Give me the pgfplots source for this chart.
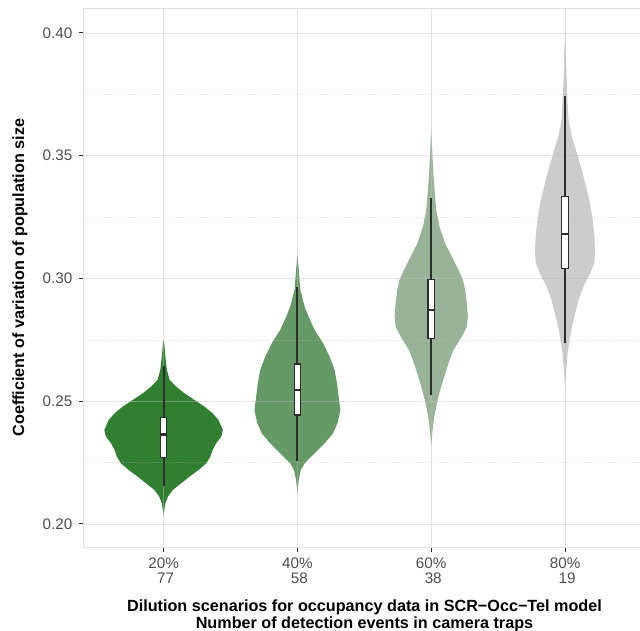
\documentclass[border=0pt]{standalone}
\usepackage{pgfplots}
\pgfplotsset{compat=1.18}
\usepackage{fontspec}
\setmainfont{Liberation Sans}
\definecolor{vA}{RGB}{49,128,49}
\definecolor{vB}{RGB}{101,153,101}
\definecolor{vC}{RGB}{152,179,152}
\definecolor{vD}{RGB}{204,204,204}
\definecolor{gridc}{RGB}{190,190,190}
\definecolor{tickc}{RGB}{77,77,77}
\definecolor{boxc}{RGB}{45,45,45}
\pgfplotsset{
  whisk/.style={draw=boxc, line width=2.1bp},
  bx/.style={draw=boxc, fill=white, line width=1.2bp},
  med/.style={draw=boxc, line width=2.4bp},
}
\begin{document}
\begin{tikzpicture}
\begin{axis}[
  set layers,
  scale only axis, width=556.7bp, height=538.7bp,
  xmin=0.4, xmax=4.56, ymin=0.19063, ymax=0.41006,
  xtick={1,2,3,4},
  xticklabels={{20\%\\\hspace*{4bp}77},{40\%\\\hspace*{4bp}58},{60\%\\\hspace*{4bp}38},{80\%\\\hspace*{4bp}19}},
  ytick={0.2,0.25,0.3,0.35,0.4},
  minor ytick={0.225,0.275,0.325,0.375},
  xtick pos=bottom, ytick pos=left,
  tick align=outside, major tick length=4.5bp, minor tick length=0pt,
  major tick style={boxc, line width=1bp},
  grid=both,
  major grid style={draw=gridc, draw opacity=0.45, line width=0.9bp},
  minor grid style={draw=gridc, draw opacity=0.3, line width=0.5bp, dash pattern=on 2bp off 1bp},
  axis line style={black!13, line width=1bp},
  /pgf/number format/assume math mode=true,
  yticklabel style={xshift=-3bp, /pgf/number format/fixed, /pgf/number format/fixed zerofill, /pgf/number format/precision=2},
  tick label style={text=tickc, font=\fontsize{15.3}{15.5}\selectfont},
  xticklabel style={align=center, inner sep=0pt},
  xticklabel shift=6bp,
  ylabel={Coefficient of variation of population size},
  ylabel style={at={(axis description cs:-0.1137,0.5)}, anchor=center, inner sep=0pt, font=\bfseries\fontsize{16.25}{19}\selectfont},
  xlabel={Dilution scenarios for occupancy data in SCR−Occ−Tel model\\Number of detection events in camera traps},
  xlabel style={align=center, at={(axis description cs:0.5051,-0.0975)}, anchor=north, inner sep=0pt, font=\bfseries\fontsize{16.25}{17.3}\selectfont},
]
% violin 20%
\addplot[on layer=axis background, fill=vA, draw=none] table[x expr=1+\thisrow{w}, y=v] {
v w
0.2750 0
0.2736 0.005
0.2682 0.013
0.2627 0.025
0.2587 0.045
0.2559 0.095
0.2532 0.157
0.2505 0.231
0.2478 0.306
0.2451 0.366
0.2424 0.410
0.2383 0.443
0.2356 0.431
0.2329 0.393
0.2301 0.366
0.2274 0.349
0.2247 0.319
0.2220 0.261
0.2193 0.194
0.2166 0.132
0.2139 0.069
0.2111 0.032
0.2084 0.013
0.2044 0.002
0.2033 0
0.2044 -0.002
0.2084 -0.013
0.2111 -0.032
0.2139 -0.069
0.2166 -0.132
0.2193 -0.194
0.2220 -0.261
0.2247 -0.319
0.2274 -0.349
0.2301 -0.366
0.2329 -0.393
0.2356 -0.431
0.2383 -0.443
0.2424 -0.410
0.2451 -0.366
0.2478 -0.306
0.2505 -0.231
0.2532 -0.157
0.2559 -0.095
0.2587 -0.045
0.2627 -0.025
0.2682 -0.013
0.2736 -0.005
};
% violin 40%
\addplot[on layer=axis background, fill=vB, draw=none] table[x expr=2+\thisrow{w}, y=v] {
v w
0.3100 0
0.3035 0.010
0.2953 0.022
0.2885 0.054
0.2844 0.084
0.2790 0.129
0.2736 0.192
0.2681 0.241
0.2627 0.278
0.2573 0.296
0.2519 0.308
0.2464 0.321
0.2437 0.311
0.2410 0.299
0.2369 0.266
0.2329 0.204
0.2288 0.129
0.2247 0.054
0.2220 0.025
0.2179 0.010
0.2138 0.002
0.2118 0
0.2138 -0.002
0.2179 -0.010
0.2220 -0.025
0.2247 -0.054
0.2288 -0.129
0.2329 -0.204
0.2369 -0.266
0.2410 -0.299
0.2437 -0.311
0.2464 -0.321
0.2519 -0.308
0.2573 -0.296
0.2627 -0.278
0.2681 -0.241
0.2736 -0.192
0.2790 -0.129
0.2844 -0.084
0.2885 -0.054
0.2953 -0.022
0.3035 -0.010
};
% violin 60%
\addplot[on layer=axis background, fill=vC, draw=none] table[x expr=3+\thisrow{w}, y=v] {
v w
0.3605 0
0.3551 0.005
0.3415 0.017
0.3279 0.037
0.3211 0.062
0.3143 0.104
0.3089 0.154
0.3035 0.204
0.2994 0.237
0.2953 0.254
0.2899 0.266
0.2844 0.274
0.2804 0.266
0.2763 0.229
0.2709 0.166
0.2655 0.129
0.2600 0.097
0.2546 0.067
0.2492 0.043
0.2437 0.022
0.2383 0.010
0.2329 0.002
0.2314 0
0.2329 -0.002
0.2383 -0.010
0.2437 -0.022
0.2492 -0.043
0.2546 -0.067
0.2600 -0.097
0.2655 -0.129
0.2709 -0.166
0.2763 -0.229
0.2804 -0.266
0.2844 -0.274
0.2899 -0.266
0.2953 -0.254
0.2994 -0.237
0.3035 -0.204
0.3089 -0.154
0.3143 -0.104
0.3211 -0.062
0.3279 -0.037
0.3415 -0.017
0.3551 -0.005
};
% violin 80%
\addplot[on layer=axis background, fill=vD, draw=none] table[x expr=4+\thisrow{w}, y=v] {
v w
0.4000 0
0.3917 0.006
0.3781 0.013
0.3646 0.026
0.3578 0.051
0.3510 0.088
0.3442 0.125
0.3374 0.157
0.3306 0.187
0.3238 0.207
0.3170 0.220
0.3103 0.225
0.3062 0.218
0.3021 0.188
0.2967 0.138
0.2912 0.101
0.2858 0.076
0.2804 0.051
0.2749 0.034
0.2695 0.019
0.2627 0.009
0.2559 0.001
0.2546 0
0.2559 -0.001
0.2627 -0.009
0.2695 -0.019
0.2749 -0.034
0.2804 -0.051
0.2858 -0.076
0.2912 -0.101
0.2967 -0.138
0.3021 -0.188
0.3062 -0.218
0.3103 -0.225
0.3170 -0.220
0.3238 -0.207
0.3306 -0.187
0.3374 -0.157
0.3442 -0.125
0.3510 -0.088
0.3578 -0.051
0.3646 -0.026
0.3781 -0.013
0.3917 -0.006
};
% boxplots: whiskers (lower whisker to upper whisker), box (quartiles), median
\addplot[whisk] coordinates {(1,0.2156) (1,0.2644)};
\addplot[bx] coordinates {(0.976,0.2270) (1.024,0.2270) (1.024,0.2435) (0.976,0.2435) (0.976,0.2270)} -- cycle;
\addplot[med] coordinates {(0.976,0.2365) (1.024,0.2365)};
\addplot[whisk] coordinates {(2,0.2258) (2,0.2964)};
\addplot[bx] coordinates {(1.976,0.2444) (2.024,0.2444) (2.024,0.2652) (1.976,0.2652) (1.976,0.2444)} -- cycle;
\addplot[med] coordinates {(1.976,0.2546) (2.024,0.2546)};
\addplot[whisk] coordinates {(3,0.2525) (3,0.3327)};
\addplot[bx] coordinates {(2.976,0.2757) (3.024,0.2757) (3.024,0.2997) (2.976,0.2997) (2.976,0.2757)} -- cycle;
\addplot[med] coordinates {(2.976,0.2872) (3.024,0.2872)};
\addplot[whisk] coordinates {(4,0.2739) (4,0.3745)};
\addplot[bx] coordinates {(3.976,0.3042) (4.024,0.3042) (4.024,0.3334) (3.976,0.3334) (3.976,0.3042)} -- cycle;
\addplot[med] coordinates {(3.976,0.3181) (4.024,0.3181)};
\end{axis}
\pgfresetboundingbox
\path[use as bounding box] ([shift={(-83.3bp,-84bp)}]current axis.south west) rectangle ([shift={(0bp,8.3bp)}]current axis.north east);
\end{tikzpicture}
\end{document}
